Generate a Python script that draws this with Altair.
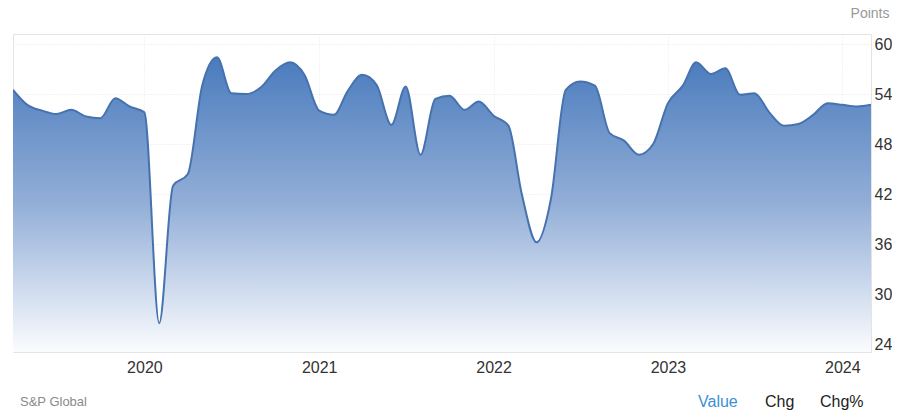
import altair as alt
import pandas as pd

months = pd.date_range("2019-04-01", "2024-03-01", freq="MS").strftime("%Y-%m-%dT00:00:00").tolist()
values = [
    54.5, 52.7, 52.0, 51.6, 52.1, 51.3, 51.1, 53.5, 52.5,              # 2019 Apr-Dec
    51.8, 26.5, 43.0, 44.4, 55.0, 58.4, 54.1, 54.0, 54.8, 56.8, 57.8, 56.3,  # 2020
    52.0, 51.5, 54.3, 56.3, 55.1, 50.3, 54.9, 46.7, 53.4, 53.8, 52.1, 53.1,  # 2021
    51.4, 50.2, 42.0, 36.2, 41.4, 54.5, 55.5, 55.0, 49.3, 48.4, 46.7, 48.0,  # 2022
    52.9, 55.0, 57.8, 56.4, 57.1, 53.9, 54.1, 51.8, 50.2, 50.4, 51.5, 52.9,  # 2023
    52.7, 52.5, 52.7,                                                  # 2024 Jan-Mar
]
y_ticks = [24, 30, 36, 42, 48, 54, 60]
y_min, y_max = 23.04, 61.2
footer_left = ["S&P Global"]
footer_right = ["Value", "Chg", "Chg%"]

df = pd.DataFrame({"date": months, "value": values})

FONT = "Liberation Sans"

x_enc = alt.X(
    "date:T",
    scale=alt.Scale(nice=False),
    axis=alt.Axis(
        title=None, format="%Y", tickCount="year", labelFontSize=16, labelColor="#333333",
        labelPadding=7, ticks=False, domain=False, grid=True, gridColor="#e6e6e6",
        gridDash=[1, 2], labelFont=FONT,
    ),
)
y_enc = alt.Y(
    "value:Q",
    scale=alt.Scale(domain=[y_min, y_max], nice=False, zero=False),
    axis=alt.Axis(
        orient="right", values=y_ticks, title="Points", titleAngle=0, titleAlign="right",
        titleBaseline="middle", titleX=18, titleY=-21, titleColor="#999999",
        titleFontSize=14, titleFontWeight="normal", titleFont=FONT,
        labelFontSize=16, labelColor="#333333", labelPadding=3, ticks=False, domain=False,
        grid=True, gridColor="#e6e6e6", gridDash=[1, 2], labelFont=FONT,
    ),
)

area = alt.Chart(df).mark_area(
    interpolate="monotone",
    clip=True,
    color=alt.Gradient(
        gradient="linear",
        stops=[
            alt.GradientStop(color="#4a7bbd", offset=0),
            alt.GradientStop(color="#93afd8", offset=0.5),
            alt.GradientStop(color="#fbfcfe", offset=1),
        ],
        x1=1, x2=1, y1=0, y2=1,
    ),
    line=False,
).encode(x=x_enc, y=y_enc, y2=alt.datum(y_min))

line = alt.Chart(df).mark_line(
    interpolate="monotone", color="#4672ae", strokeWidth=2, clip=True
).encode(x="date:T", y="value:Q")

left_txt = alt.Chart(pd.DataFrame({"t": footer_left})).mark_text(
    align="left", baseline="middle", fontSize=13, color="#8a8a8a", font=FONT
).encode(text="t:N", x=alt.value(7), y=alt.value(368))

right_df = pd.DataFrame({
    "t": footer_right,
    "px": [685, 752, 807],
    "c": ["#3a8fd6", "#222222", "#222222"],
})
right_txt = alt.Chart(right_df).mark_text(
    align="left", baseline="middle", fontSize=16, font=FONT
).encode(
    text="t:N",
    x=alt.X("px:Q", scale=None),
    y=alt.value(368),
    color=alt.Color("c:N", scale=None),
)

chart = alt.layer(area, line, left_txt, right_txt).properties(
    width=858, height=318,
    autosize=alt.AutoSizeParams(type="none"),
    padding={"left": 5, "top": 26, "right": 21, "bottom": 58},
    background="white",
).configure_view(stroke="#e4e4e4", strokeWidth=1)

chart.save("out.html", embed_options={"renderer": "svg", "actions": False})
